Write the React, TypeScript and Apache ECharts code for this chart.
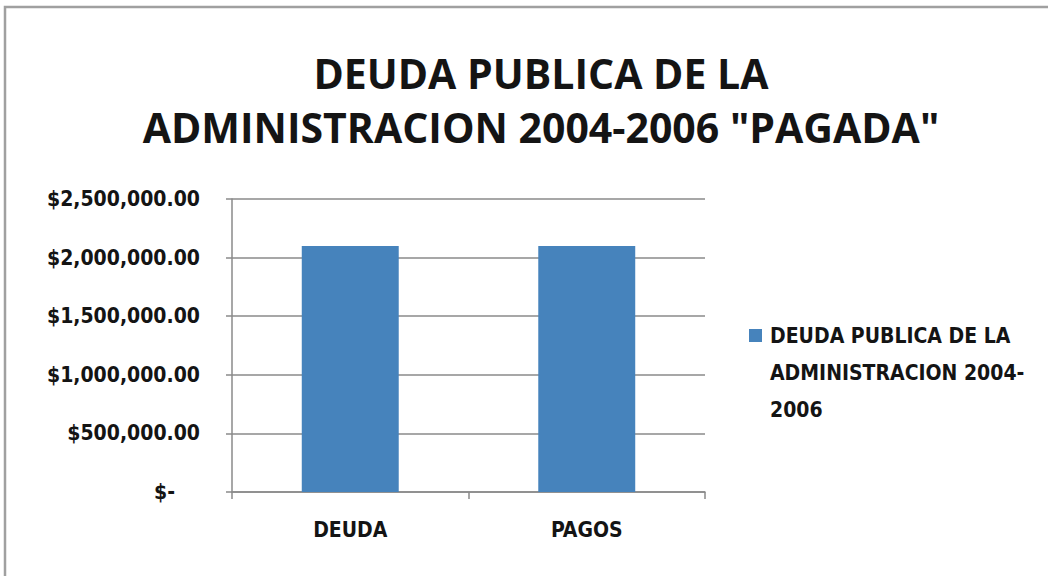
import React, { useEffect, useRef } from "react";
import * as echarts from "echarts";

const titleLines = ["DEUDA PUBLICA DE LA", "ADMINISTRACION 2004-2006 \"PAGADA\""];
const categories = ["DEUDA", "PAGOS"];
const seriesName = "DEUDA PUBLICA DE LA ADMINISTRACION 2004-2006";
const legendLines = ["DEUDA PUBLICA DE LA", "ADMINISTRACION 2004-", "2006"];
const values = [2100000, 2100000];
const yMin = 0;
const yMax = 2500000;
const yStep = 500000;

const BAR = "#4683bc";
const GRID = "#8a8a8a";
const TXT = "#141414";
const FONT = "'DejaVu Sans Condensed', 'Liberation Sans Narrow', Lato, sans-serif";

function fmt(v: number): string {
  if (v === 0) return "{z|$-}";
  return "$" + v.toLocaleString("en-US", { minimumFractionDigits: 2, maximumFractionDigits: 2 });
}

export default function App() {
  const ref = useRef<HTMLDivElement>(null);
  useEffect(() => {
    if (!ref.current) return;
    const chart = echarts.init(ref.current, null, { renderer: "svg" });
    chart.setOption({
      animation: false,
      backgroundColor: "#ffffff",
      title: {
        text: titleLines.join("\n"),
        left: 536,
        top: 41,
        textAlign: "center",
        textStyle: {
          fontFamily: "'Open Sans', sans-serif",
          fontWeight: "bold",
          fontSize: 41,
          lineHeight: 54,
          color: TXT,
        },
      },
      grid: { left: 232, right: 343, top: 199, bottom: 84, containLabel: false },
      xAxis: {
        type: "category",
        data: categories,
        boundaryGap: true,
        axisLine: { lineStyle: { color: GRID, width: 1.5 } },
        axisTick: { show: true, length: 7, alignWithLabel: false, lineStyle: { color: GRID, width: 1.5 } },
        axisLabel: {
          margin: 27,
          fontFamily: FONT,
          fontWeight: "bold",
          fontSize: 21,
          color: TXT,
        },
      },
      yAxis: {
        type: "value",
        min: yMin,
        max: yMax,
        interval: yStep,
        axisLine: { show: true, lineStyle: { color: GRID, width: 1.5 } },
        axisTick: { show: true, length: 6, lineStyle: { color: GRID, width: 1.5 } },
        splitLine: { show: true, lineStyle: { color: GRID, width: 1.5 } },
        axisLabel: {
          margin: 32,
          formatter: (v: number) => fmt(v),
          fontFamily: FONT,
          fontWeight: "bold",
          fontSize: 21,
          color: TXT,
          rich: {
            z: { fontFamily: FONT, fontWeight: "bold", fontSize: 21, color: TXT, padding: [0, 25, 0, 0] },
          },
        },
      },
      series: [
        {
          name: seriesName,
          type: "bar",
          data: values,
          barWidth: "41%",
          itemStyle: { color: BAR },
        },
      ],
      graphic: [
        {
          type: "rect",
          shape: { x: 5, y: 7, width: 1100, height: 700 },
          style: { fill: "none", stroke: "#a0a0a0", lineWidth: 2.5 },
          z: -1,
        },
        {
          type: "group",
          x: 749,
          y: 329,
          children: [
            { type: "rect", shape: { x: 0, y: 0, width: 13, height: 13 }, style: { fill: BAR } },
            {
              type: "text",
              x: 21,
              y: -12,
              style: {
                text: legendLines.join("\n"),
                font: "bold 21px " + FONT,
                lineHeight: 37,
                fill: TXT,
              },
            },
          ],
        },
      ],
    });
    return () => chart.dispose();
  }, []);
  return <div ref={ref} style={{ width: 1048, height: 576, position: "absolute", left: 0, top: 0 }} />;
}
